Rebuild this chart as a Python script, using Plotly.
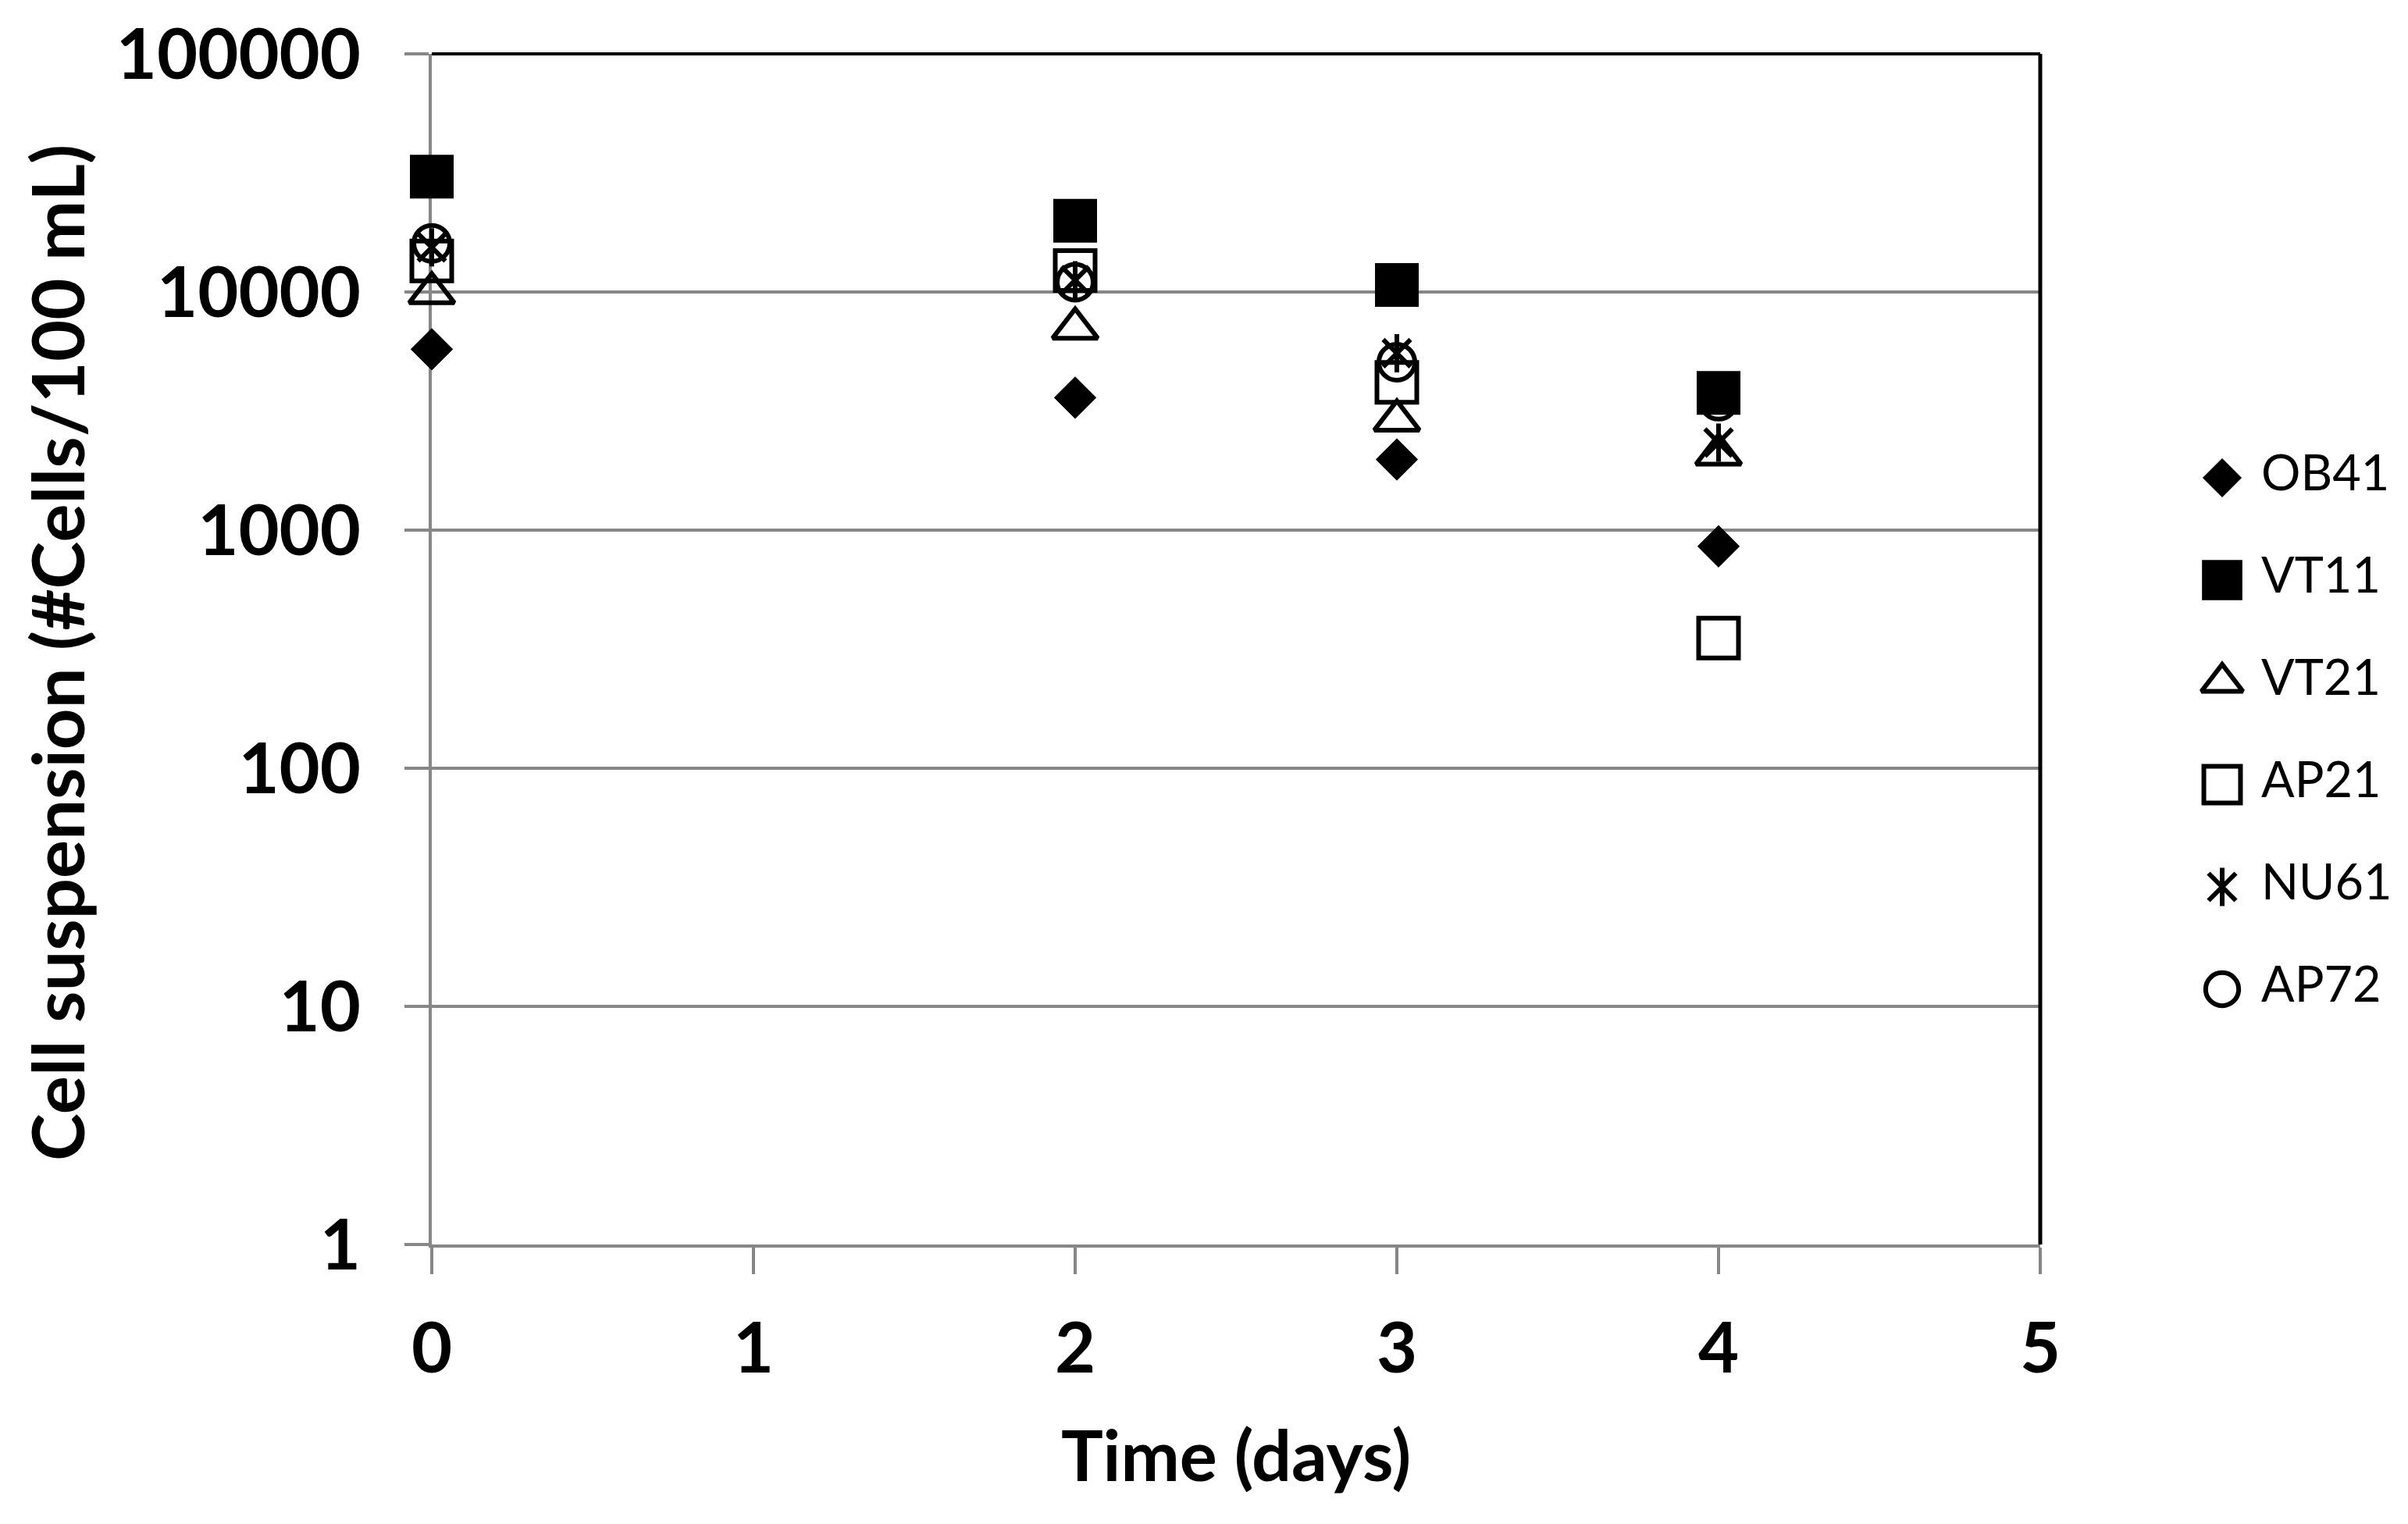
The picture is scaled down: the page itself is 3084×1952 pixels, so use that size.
import plotly.graph_objects as go

# ---- data ----
days = [0, 2, 3, 4]
series_names = ["OB41", "VT11", "VT21", "AP21", "NU61", "AP72"]
OB41 = [5750, 3600, 1980, 855]
VT11 = [30500, 19900, 10700, 3770]
VT21 = [9900, 7030, 2890, 2080]
AP21 = [13500, 12300, 4170, 352]
NU61 = [15400, 11200, 5530, 2330]
AP72 = [16000, 11000, 5070, 3480]
y_tickvals = [1, 10, 100, 1000, 10000, 100000]
y_ticktext = ["1", "10", "100", "1000", "10000", "100000"]
x_tickvals = [0, 1, 2, 3, 4, 5]

values = {"OB41": OB41, "VT11": VT11, "VT21": VT21,
          "AP21": AP21, "NU61": NU61, "AP72": AP72}

# ---- styles ----
GRID = "#878787"
styles = {
    "OB41": [dict(symbol="diamond", size=41, color="black", line=dict(color="black", width=1))],
    "VT11": [dict(symbol="square", size=54, color="black", line=dict(color="black", width=2))],
    "VT21": [dict(symbol="triangle-up-open", size=50, color="black", line=dict(color="black", width=6))],
    "AP21": [dict(symbol="square-open", size=51, color="black", line=dict(color="black", width=6))],
    "NU61": [dict(symbol="x-thin-open", size=35, color="black", line=dict(color="black", width=6)),
             dict(symbol="line-ns-open", size=35, color="black", line=dict(color="black", width=6))],
    "AP72": [dict(symbol="circle-open", size=46, color="black", line=dict(color="black", width=6))],
}

OFF = 8  # page body margin
W, H = 3084 - OFF, 1952 - OFF
L, T = 553 - OFF, 69 - OFF
plot_bottom = 1594 - OFF
B = H - plot_bottom
plot_right = 2613 - OFF
paper_w = W - L
x_dom_end = (plot_right - L) / paper_w
leg_left = 2790 - OFF

fig = go.Figure()

for name in series_names:
    for m in styles[name]:
        fig.add_trace(go.Scatter(
            x=days, y=values[name], mode="markers", name=name,
            marker=m, cliponaxis=False, showlegend=False,
            xaxis="x", yaxis="y",
        ))

# custom legend (drawn on an auxiliary axis)
leg_rows = list(range(len(series_names)))
for i, name in enumerate(series_names):
    for m in styles[name]:
        mm = dict(m)
        if not m["symbol"].startswith(("x-thin", "line-ns")):
            mm["size"] = m["size"] * 0.92
        fig.add_trace(go.Scatter(
            x=[56], y=[leg_rows[i]], mode="markers", marker=mm,
            cliponaxis=False, showlegend=False, xaxis="x2", yaxis="y2",
            hoverinfo="skip",
        ))
fig.add_trace(go.Scatter(
    x=[106] * len(series_names), y=leg_rows, mode="text", text=series_names,
    textposition="middle right",
    textfont=dict(family="Lato", size=63, color="black"),
    cliponaxis=False, showlegend=False, xaxis="x2", yaxis="y2", hoverinfo="skip",
))

row0_px, row_gap = 612 - OFF, 131
plot_h = plot_bottom - T
y2_top = -(row0_px - T) / row_gap
y2_bot = (plot_bottom - row0_px) / row_gap

tickfont = dict(family="Lato", size=90, color="black", weight="bold")

fig.update_layout(
    width=W, height=H, autosize=False,
    margin=dict(l=L, r=0, t=T, b=B, pad=0, autoexpand=False),
    paper_bgcolor="white", plot_bgcolor="white",
    showlegend=False,
    xaxis=dict(
        domain=[0, x_dom_end], range=[0, 5], tickvals=x_tickvals,
        ticktext=[str(v) for v in x_tickvals],
        showgrid=False, zeroline=False, automargin=False,
        showline=True, linecolor=GRID, linewidth=4,
        ticks="outside", ticklen=34, tickwidth=4, tickcolor=GRID,
        tickfont=tickfont, ticklabelstandoff=18, layer="below traces",
    ),
    yaxis=dict(
        type="log", range=[0, 5], tickvals=y_tickvals, ticktext=y_ticktext,
        showgrid=True, gridcolor=GRID, gridwidth=4, automargin=False,
        showline=True, linecolor=GRID, linewidth=4,
        ticks="outside", ticklen=31, tickwidth=4, tickcolor=GRID,
        tickfont=tickfont, ticklabelstandoff=38, layer="below traces",
    ),
    xaxis2=dict(
        domain=[(leg_left - L) / paper_w, 1], range=[0, W - leg_left],
        visible=False, anchor="y2", automargin=False,
    ),
    yaxis2=dict(
        domain=[0, 1], range=[y2_bot, y2_top], visible=False, anchor="x2",
        automargin=False,
    ),
    shapes=[
        dict(type="line", xref="x domain", yref="y domain", x0=0, x1=1, y0=1, y1=1,
             line=dict(color="black", width=4)),
        dict(type="line", xref="x domain", yref="y domain", x0=1, x1=1, y0=0, y1=1,
             line=dict(color="black", width=5)),
    ],
    annotations=[
        dict(text="Time (days)", xref="x domain", yref="paper", x=0.5,
             y=-(1862 - 1594) / plot_h, xanchor="center", yanchor="middle",
             showarrow=False,
             font=dict(family="Lato", size=90, color="black", weight="bold")),
        dict(text="Cell suspension (#Cells/100 mL)", xref="paper", yref="paper",
             x=(72 - 553) / paper_w, y=0.497, xanchor="center", yanchor="middle",
             textangle=-90, showarrow=False,
             font=dict(family="Lato", size=92, color="black", weight="bold")),
    ],
)

fig.write_html("out.html")
